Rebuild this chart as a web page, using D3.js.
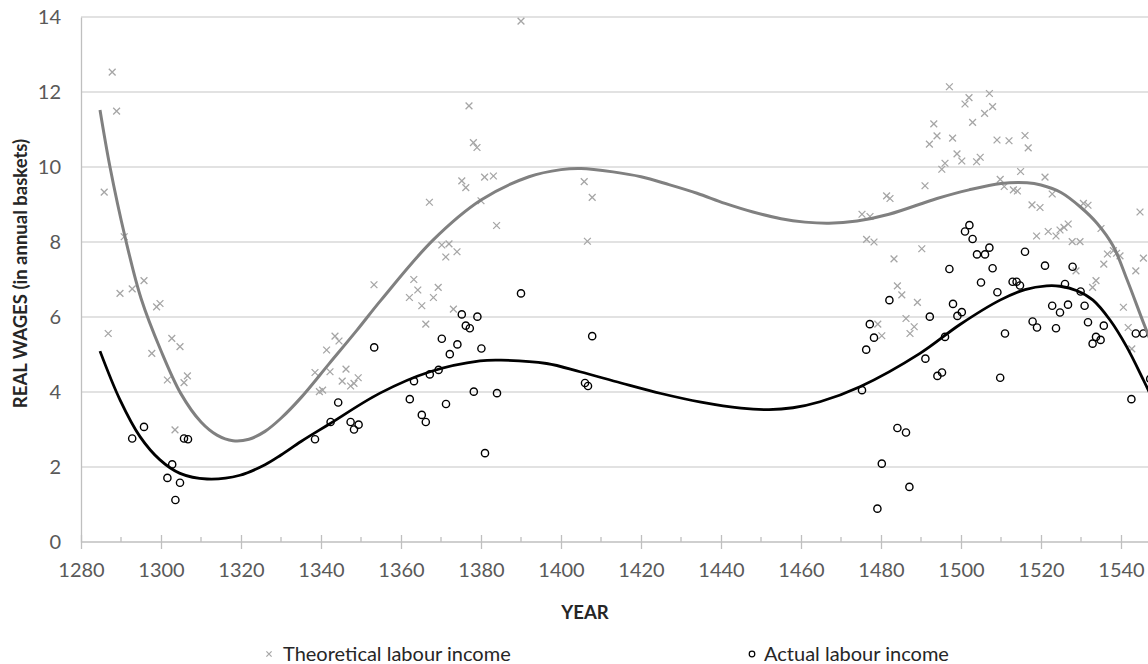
<!DOCTYPE html>
<html>
<head>
<meta charset="utf-8">
<script src="https://cdn.jsdelivr.net/npm/d3@7"></script>
<style>
  body { margin: 0; background: #fff; }
  svg { display: block; }
  text { font-family: Lato, "Open Sans", "Liberation Sans", sans-serif; }
</style>
</head>
<body>
<svg id="chart" width="1148" height="664"></svg>
<script>
// Axis ticks
const yearTicks = d3.range(1280, 1541, 20);
const yearMinorTicks = d3.range(1290, 1551, 20);
const wageTicks = d3.range(0, 15, 2);

// Theoretical labour income observations [year, real wage]
const theoretical = [
  [1285.8, 9.33], [1286.8, 5.56], [1287.8, 12.53], [1288.9, 11.49], [1289.75, 6.63],
  [1290.8, 8.14], [1292.8, 6.75], [1295.75, 6.97], [1297.7, 5.03], [1298.9, 6.27],
  [1299.75, 6.36], [1301.6, 4.32], [1302.7, 5.43], [1303.5, 2.99], [1304.75, 5.21],
  [1305.75, 4.25], [1306.6, 4.43],
  [1338.5, 4.52], [1339.6, 4.01], [1340.4, 4.05], [1341.4, 5.12], [1342.25, 4.54],
  [1343.5, 5.49], [1344.5, 5.36], [1345.3, 4.29], [1346.25, 4.61], [1347.4, 4.16],
  [1348.25, 4.23], [1349.3, 4.38], [1353.25, 6.86], [1362.1, 6.52], [1363.2, 7.0],
  [1364.2, 6.72], [1365.2, 6.30], [1366.2, 5.81], [1367.1, 9.06], [1368.1, 6.52],
  [1369.3, 6.79], [1370.2, 7.92], [1371.2, 7.60], [1372, 7.95], [1373.1, 6.21],
  [1374, 7.74], [1375.2, 9.63], [1376.2, 9.45], [1377, 11.63], [1378.1, 10.65],
  [1379, 10.52], [1380, 9.10], [1380.9, 9.73], [1383.1, 9.76], [1383.9, 8.44],
  [1390, 13.89], [1405.8, 9.61], [1406.6, 8.02], [1407.8, 9.19],
  [1475.25, 8.74], [1476.4, 8.07], [1477.25, 8.68], [1478.25, 8.0], [1479.2, 5.81],
  [1480.2, 5.50], [1481.4, 9.23], [1482.25, 9.16], [1483.25, 7.55], [1484.1, 6.83],
  [1485.2, 6.59], [1486.25, 5.96], [1487.25, 5.56], [1488.3, 5.74], [1489.1, 6.39],
  [1490.2, 7.82], [1491, 9.50], [1492.1, 10.61], [1493.2, 11.15], [1494, 10.83],
  [1495.2, 9.94], [1496, 10.10], [1497.1, 12.14], [1497.9, 10.77], [1499, 10.35],
  [1500.2, 10.16], [1501, 11.68], [1502, 11.85], [1502.9, 11.19], [1503.9, 10.14],
  [1504.8, 10.26], [1505.9, 11.43], [1507.1, 11.96], [1507.9, 11.61], [1509, 10.72],
  [1509.8, 9.67], [1510.8, 9.48], [1512, 10.70], [1513.1, 9.39], [1514.1, 9.36],
  [1514.9, 9.88], [1516, 10.84], [1516.8, 10.51], [1517.75, 8.99], [1518.9, 8.16],
  [1519.75, 8.92], [1521, 9.73], [1521.8, 8.28], [1522.8, 9.28], [1523.75, 8.16],
  [1524.75, 8.32], [1525.75, 8.39], [1526.8, 8.48], [1527.8, 8.01], [1528.75, 7.23],
  [1529.75, 8.01], [1530.6, 9.03], [1531.75, 8.98], [1532.9, 6.79], [1533.75, 6.97],
  [1535, 8.36], [1535.7, 7.41], [1536.6, 7.68], [1538.1, 7.77], [1538.9, 7.70],
  [1539.75, 7.63], [1540.6, 6.26], [1541.8, 5.72], [1542.7, 5.15], [1543.7, 7.23],
  [1544.75, 8.80], [1545.6, 7.57]
];

// Actual labour income observations [year, real wage]
const actual = [
  [1292.8, 2.76], [1295.75, 3.07], [1301.6, 1.71], [1302.8, 2.07], [1303.6, 1.12],
  [1304.75, 1.58], [1305.75, 2.76], [1306.75, 2.74],
  [1338.5, 2.74], [1342.4, 3.20], [1344.3, 3.72], [1347.4, 3.20], [1348.25, 3.0],
  [1349.4, 3.13], [1353.3, 5.19], [1362.2, 3.81], [1363.25, 4.29], [1365.2, 3.39],
  [1366.2, 3.20], [1367.2, 4.47], [1369.4, 4.59], [1370.2, 5.42], [1371.25, 3.68],
  [1372.2, 5.01], [1374.1, 5.27], [1375.2, 6.07], [1376.2, 5.77], [1377.2, 5.70],
  [1378.2, 4.01], [1379.1, 6.01], [1380.1, 5.16], [1381, 2.37], [1384, 3.97],
  [1390, 6.63], [1406, 4.24], [1406.75, 4.16], [1407.8, 5.49],
  [1475.25, 4.05], [1476.3, 5.13], [1477.2, 5.81], [1478.25, 5.45], [1479.1, 0.89],
  [1480.2, 2.09], [1482.1, 6.45], [1484.1, 3.04], [1486.25, 2.92], [1487.1, 1.47],
  [1491.1, 4.89], [1492.2, 6.01], [1494.1, 4.43], [1495.25, 4.52], [1496, 5.47],
  [1497.1, 7.28], [1498, 6.35], [1499.1, 6.03], [1500.2, 6.13], [1501, 8.28],
  [1502.1, 8.45], [1502.9, 8.08], [1504, 7.67], [1505, 6.92], [1506, 7.67],
  [1507.1, 7.85], [1507.9, 7.30], [1509.1, 6.66], [1509.8, 4.38], [1511, 5.56],
  [1512.9, 6.94], [1513.9, 6.94], [1514.75, 6.84], [1516, 7.74], [1517.9, 5.88],
  [1519, 5.72], [1521, 7.37], [1522.8, 6.30], [1523.75, 5.70], [1524.75, 6.12],
  [1526, 6.88], [1526.75, 6.33], [1527.9, 7.34], [1529.9, 6.68], [1530.9, 6.30],
  [1531.75, 5.86], [1532.9, 5.29], [1533.75, 5.47], [1534.9, 5.39], [1535.7, 5.77],
  [1542.6, 3.81], [1543.7, 5.56], [1545.6, 5.56], [1547.3, 4.35]
];

// Polynomial trend of theoretical income, sampled [year, value]
const theoreticalTrend = [
  [1284.75, 11.52], [1287.25, 10.0], [1291, 8.14], [1295, 6.5], [1300, 5.1],
  [1305, 3.95], [1310, 3.2], [1314, 2.85], [1318, 2.70], [1322, 2.74],
  [1326, 2.95], [1330, 3.3], [1335, 3.85], [1342, 4.75], [1349, 5.65],
  [1355, 6.45], [1368, 8.05], [1380, 9.12], [1392, 9.74], [1400, 9.93],
  [1405, 9.96], [1413, 9.87], [1420, 9.74], [1427, 9.53], [1434, 9.3],
  [1441, 9.03], [1448, 8.8], [1455, 8.62], [1461, 8.53], [1467, 8.50],
  [1474, 8.56], [1482, 8.74], [1494, 9.16], [1502, 9.39], [1510, 9.56],
  [1516.5, 9.58], [1520, 9.52], [1525, 9.32], [1530, 8.92], [1534, 8.5],
  [1538, 7.9], [1541.5, 7.0], [1545.6, 5.85], [1548, 5.2]
];

// Polynomial trend of actual income, sampled [year, value]
const actualTrend = [
  [1284.75, 5.09], [1289.75, 3.79], [1294.75, 2.81], [1299.75, 2.19], [1304.75, 1.83],
  [1311.5, 1.68], [1319.75, 1.78], [1326, 2.06], [1330, 2.32], [1335, 2.68],
  [1342, 3.14], [1354.75, 3.97], [1367.25, 4.54], [1379.75, 4.83], [1385, 4.85],
  [1396.4, 4.76], [1404.75, 4.54], [1415, 4.24], [1425, 3.96], [1435, 3.73],
  [1445, 3.57], [1452, 3.53], [1458, 3.58], [1464.75, 3.74], [1474.75, 4.14],
  [1489.75, 5.03], [1499.75, 5.8], [1509.75, 6.45], [1516, 6.73], [1521.4, 6.83],
  [1524.75, 6.82], [1529, 6.7], [1533, 6.45], [1537.25, 5.92], [1541.4, 5.21],
  [1545.6, 4.32], [1547.5, 3.9]
];

const svg = d3.select("#chart");
const W = 1148, H = 664;
svg.append("rect").attr("width", W).attr("height", H).attr("fill", "#fff");

const x = d3.scaleLinear().domain([1280, 1560]).range([81, 1201]);
const y = d3.scaleLinear().domain([0, 14]).range([542, 17]);

// Horizontal gridlines
svg.append("g")
  .selectAll("line")
  .data(wageTicks.filter(d => d > 0))
  .join("line")
  .attr("x1", x(1280)).attr("x2", W)
  .attr("y1", d => y(d)).attr("y2", d => y(d))
  .attr("stroke", "#d9d9d9").attr("stroke-width", 1.3);

// Y axis: line plus labels
const yAxis = svg.append("g").attr("transform", `translate(${x(1280)},0)`)
  .call(d3.axisLeft(y).tickValues(wageTicks).tickSize(0).tickPadding(20));
yAxis.select(".domain").attr("stroke", "#bfbfbf").attr("stroke-width", 1.3);
yAxis.selectAll("text").attr("fill", "#595959").style("font-size", "20px")
  .style("font-family", "Lato, 'Open Sans', sans-serif");

// X axis: major ticks crossing the line, minor ticks inside
const xAxis = svg.append("g").attr("transform", `translate(0,${y(0)})`)
  .call(d3.axisBottom(x).tickValues(yearTicks).tickSize(7).tickPadding(14).tickFormat(d3.format("d")));
xAxis.select(".domain").attr("stroke", "#bfbfbf").attr("stroke-width", 1.3)
  .attr("d", `M${x(1280)},0H${W}`);
xAxis.selectAll(".tick line").attr("y1", -7).attr("y2", 7)
  .attr("stroke", "#bfbfbf").attr("stroke-width", 1.3);
xAxis.selectAll("text").attr("fill", "#595959").style("font-size", "20px")
  .style("font-family", "Lato, 'Open Sans', sans-serif");
svg.append("g").attr("transform", `translate(0,${y(0)})`)
  .selectAll("line").data(yearMinorTicks).join("line")
  .attr("x1", d => x(d)).attr("x2", d => x(d))
  .attr("y1", -5).attr("y2", 0)
  .attr("stroke", "#bfbfbf").attr("stroke-width", 1.3);

// Axis titles
svg.append("text")
  .attr("transform", `translate(27,${(y(0) + y(14)) / 2 - 6}) rotate(-90)`)
  .attr("text-anchor", "middle")
  .attr("fill", "#262626")
  .style("font-size", "18.5px").style("font-weight", "bold")
  .text("REAL WAGES (in annual baskets)");

svg.append("text")
  .attr("x", 585).attr("y", 619)
  .attr("text-anchor", "middle")
  .attr("fill", "#262626")
  .style("font-size", "18.5px").style("font-weight", "bold")
  .text("YEAR");

// Marker shapes
const crossPath = (cx, cy, r) => `M${cx - r},${cy - r}L${cx + r},${cy + r}M${cx - r},${cy + r}L${cx + r},${cy - r}`;

// Theoretical income: grey crosses
svg.append("g")
  .selectAll("path").data(theoretical).join("path")
  .attr("d", d => crossPath(x(d[0]), y(d[1]), 3.4))
  .attr("stroke", "#a6a6a6").attr("stroke-width", 1.3).attr("fill", "none");

// Actual income: black open circles
svg.append("g")
  .selectAll("circle").data(actual).join("circle")
  .attr("cx", d => x(d[0])).attr("cy", d => y(d[1])).attr("r", 3.6)
  .attr("fill", "none").attr("stroke", "#000").attr("stroke-width", 1.4);

// Trend lines
const trendLine = d3.line().x(d => x(d[0])).y(d => y(d[1])).curve(d3.curveCatmullRom.alpha(0.5));
svg.append("path").datum(theoreticalTrend).attr("d", trendLine)
  .attr("fill", "none").attr("stroke", "#808080").attr("stroke-width", 3);
svg.append("path").datum(actualTrend).attr("d", trendLine)
  .attr("fill", "none").attr("stroke", "#000").attr("stroke-width", 2.8);

// Legend
const legend = svg.append("g");
legend.append("path").attr("d", crossPath(269, 654, 2.6))
  .attr("stroke", "#a6a6a6").attr("stroke-width", 1.2).attr("fill", "none");
legend.append("text").attr("x", 283).attr("y", 661)
  .attr("fill", "#262626").style("font-size", "20px")
  .text("Theoretical labour income");
legend.append("circle").attr("cx", 752).attr("cy", 654).attr("r", 2.8)
  .attr("fill", "none").attr("stroke", "#000").attr("stroke-width", 1.2);
legend.append("text").attr("x", 764).attr("y", 661)
  .attr("fill", "#262626").style("font-size", "20px")
  .text("Actual labour income");
</script>
</body>
</html>
